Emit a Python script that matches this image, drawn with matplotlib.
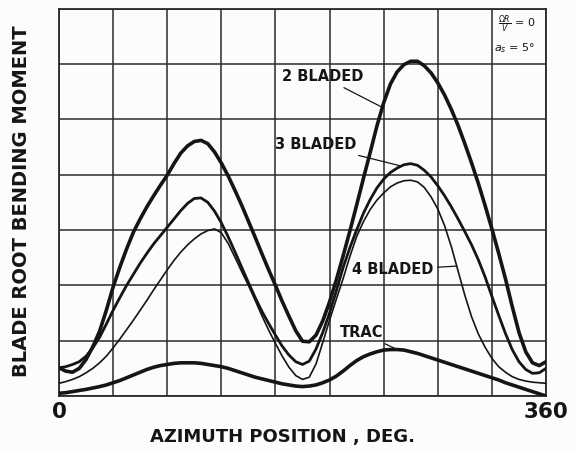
import numpy as np
import matplotlib
matplotlib.use("Agg")
import matplotlib.pyplot as plt

# Azimuth stations (deg), every 5 degrees from 0 to 360
azimuth = list(range(0, 361, 5))

# Blade root bending moment (grid units) at each azimuth station
moment_2_bladed = [
    0.51, 0.45, 0.43, 0.50, 0.66, 0.89, 1.17, 1.55, 1.97, 2.33, 2.66, 2.96, 3.20,
    3.42, 3.62, 3.81, 3.99, 4.20, 4.39, 4.52, 4.60, 4.62, 4.56, 4.41, 4.21, 3.98,
    3.72, 3.45, 3.16, 2.87, 2.57, 2.28, 2.00, 1.71, 1.44, 1.18, 0.99, 0.98, 1.10,
    1.36, 1.70, 2.10, 2.53, 2.98, 3.45, 3.93, 4.40, 4.88, 5.30, 5.64, 5.86, 5.99,
    6.05, 6.05, 5.97, 5.84, 5.66, 5.44, 5.18, 4.89, 4.56, 4.21, 3.84, 3.44, 3.02,
    2.58, 2.12, 1.62, 1.15, 0.80, 0.60, 0.55, 0.62]
moment_3_bladed = [
    0.51, 0.53, 0.57, 0.62, 0.72, 0.87, 1.06, 1.30, 1.55, 1.78, 2.00, 2.20, 2.40,
    2.58, 2.75, 2.90, 3.05, 3.20, 3.35, 3.48, 3.57, 3.58, 3.50, 3.34, 3.13, 2.88,
    2.61, 2.33, 2.05, 1.78, 1.53, 1.31, 1.10, 0.90, 0.74, 0.62, 0.57, 0.63, 0.85,
    1.15, 1.50, 1.90, 2.32, 2.68, 3.00, 3.30, 3.55, 3.76, 3.92, 4.04, 4.12, 4.18,
    4.20, 4.17, 4.08, 3.96, 3.80, 3.62, 3.42, 3.20, 2.97, 2.73, 2.46, 2.15, 1.80,
    1.46, 1.13, 0.84, 0.62, 0.48, 0.41, 0.42, 0.50]
moment_4_bladed = [
    0.23, 0.26, 0.30, 0.35, 0.42, 0.50, 0.60, 0.72, 0.87, 1.03, 1.20, 1.37, 1.55,
    1.73, 1.92, 2.10, 2.28, 2.45, 2.60, 2.73, 2.84, 2.93, 2.99, 3.02, 2.95, 2.76,
    2.51, 2.25, 2.00, 1.73, 1.45, 1.19, 0.95, 0.72, 0.52, 0.37, 0.30, 0.34, 0.58,
    0.97, 1.37, 1.75, 2.12, 2.52, 2.88, 3.15, 3.37, 3.54, 3.67, 3.78, 3.85, 3.89,
    3.90, 3.87, 3.77, 3.60, 3.38, 3.08, 2.70, 2.26, 1.82, 1.43, 1.12, 0.88, 0.68,
    0.53, 0.43, 0.35, 0.30, 0.27, 0.25, 0.24, 0.23]
moment_trac = [
    0.05, 0.06, 0.08, 0.10, 0.12, 0.145, 0.17, 0.20, 0.24, 0.28, 0.33, 0.38, 0.43,
    0.48, 0.52, 0.55, 0.57, 0.59, 0.60, 0.60, 0.60, 0.59, 0.57, 0.55, 0.53, 0.50,
    0.46, 0.42, 0.38, 0.34, 0.31, 0.28, 0.25, 0.22, 0.20, 0.18, 0.17, 0.18, 0.20,
    0.24, 0.29, 0.36, 0.45, 0.55, 0.64, 0.71, 0.76, 0.80, 0.83, 0.84, 0.84, 0.83,
    0.80, 0.77, 0.73, 0.69, 0.65, 0.61, 0.57, 0.53, 0.49, 0.45, 0.41, 0.37, 0.33,
    0.29, 0.24, 0.20, 0.16, 0.12, 0.08, 0.04, 0.00]

x_ticks = [0, 40, 80, 120, 160, 200, 240, 280, 320, 360]
x_tick_labels = ["0", "", "", "", "", "", "", "", "", "360"]
y_ticks = [0, 1, 2, 3, 4, 5, 6, 7]

INK = "#151515"
GRID = "#2a2a2a"

fig = plt.figure(figsize=(5.75, 4.53), dpi=100, facecolor="#fcfcfc")
ax = fig.add_axes([0.1026, 0.1258, 0.8470, 0.8550])
ax.set_facecolor("#fcfcfc")

ax.set_xlim(0, 360)
ax.set_ylim(0, 7)
ax.set_xticks(x_ticks)
ax.set_xticklabels(x_tick_labels, fontsize=15.5, fontweight="bold", color=INK)
ax.set_yticks(y_ticks)
ax.set_yticklabels([])
ax.tick_params(length=0, pad=4)
ax.grid(True, color=GRID, linewidth=1.1)
for s in ax.spines.values():
    s.set_color(GRID)
    s.set_linewidth(1.3)

curve_kw = dict(color=INK, solid_joinstyle="round", solid_capstyle="round", zorder=3)
ax.plot(azimuth, moment_trac, lw=2.6, **curve_kw)
ax.plot(azimuth, moment_4_bladed, lw=1.2, **curve_kw)
ax.plot(azimuth, moment_3_bladed, lw=2.0, **curve_kw)
ax.plot(azimuth, moment_2_bladed, lw=2.6, **curve_kw)

lbl = dict(fontsize=10.5, fontweight="bold", color=INK, ha="right", va="center")
leader = dict(arrowstyle="-", color=INK, lw=0.9, shrinkA=1, shrinkB=0)


def tag(text, tx, ty, px, values):
    ax.annotate(text, xy=(px, np.interp(px, azimuth, values)), xytext=(tx, ty),
                arrowprops=leader, zorder=4, **lbl)


tag("2 BLADED", 225, 5.77, 239, moment_2_bladed)
tag("3 BLADED", 220, 4.54, 253, moment_3_bladed)
tag("4 BLADED", 277, 2.28, 294, moment_4_bladed)
tag("TRAC", 240, 1.14, 250, moment_trac)

ax.text(352, 6.72, r"$\frac{\Omega R}{V}$ = 0", fontsize=8, color=INK,
        ha="right", va="center")
ax.text(352, 6.28, r"$a_s$ = 5°", fontsize=8, color=INK, ha="right", va="center")

fig.text(0.492, 0.035, "AZIMUTH POSITION , DEG.", fontsize=13, fontweight="bold",
         color=INK, ha="center", va="center")
fig.text(0.038, 0.556, "BLADE ROOT BENDING MOMENT", fontsize=14, fontweight="bold",
         color=INK, ha="center", va="center", rotation=90)

fig.savefig("out.png", dpi=100, facecolor=fig.get_facecolor())
